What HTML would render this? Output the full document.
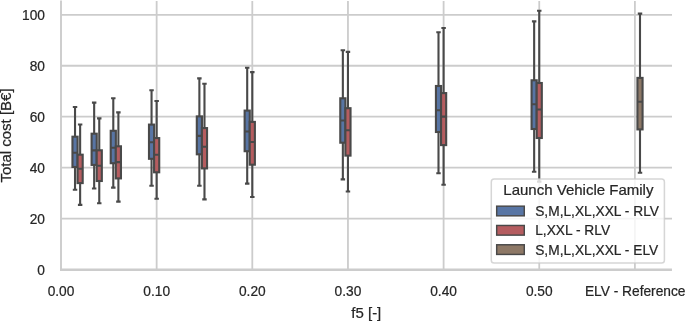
<!DOCTYPE html>
<html><head><meta charset="utf-8"><title>Total cost vs f5</title>
<style>
html,body{margin:0;padding:0;background:#fff;}
body{width:685px;height:321px;overflow:hidden;}
svg{display:block;}
text{font-family:"Liberation Sans",Arial,Helvetica,sans-serif;fill:#262626;stroke:#262626;stroke-width:0.22px;}
.tk{font-size:13.75px;}
.lb{font-size:15px;}
</style></head><body>
<svg width="685" height="321" viewBox="0 0 685 321">
<rect x="0" y="0" width="685" height="321" fill="#ffffff"/>

<g stroke="#cccccc" stroke-width="1.8" fill="none">
<line x1="156.65" y1="1.00" x2="156.65" y2="269.60"/>
<line x1="252.30" y1="1.00" x2="252.30" y2="269.60"/>
<line x1="347.95" y1="1.00" x2="347.95" y2="269.60"/>
<line x1="443.60" y1="1.00" x2="443.60" y2="269.60"/>
<line x1="539.25" y1="1.00" x2="539.25" y2="269.60"/>
<line x1="634.90" y1="1.00" x2="634.90" y2="269.60"/>
<line x1="61.00" y1="218.64" x2="672.00" y2="218.64"/>
<line x1="61.00" y1="167.68" x2="672.00" y2="167.68"/>
<line x1="61.00" y1="116.72" x2="672.00" y2="116.72"/>
<line x1="61.00" y1="65.76" x2="672.00" y2="65.76"/>
<line x1="61.00" y1="14.80" x2="672.00" y2="14.80"/>
</g>
<g>
<rect x="72.45" y="136.70" width="5.15" height="30.30" fill="#5875a4" stroke="#494949" stroke-width="2.10" stroke-linejoin="miter"/>
<rect x="91.59" y="133.70" width="5.15" height="31.20" fill="#5875a4" stroke="#494949" stroke-width="2.10" stroke-linejoin="miter"/>
<rect x="110.72" y="130.80" width="5.15" height="32.40" fill="#5875a4" stroke="#494949" stroke-width="2.10" stroke-linejoin="miter"/>
<rect x="148.98" y="124.60" width="5.15" height="34.20" fill="#5875a4" stroke="#494949" stroke-width="2.10" stroke-linejoin="miter"/>
<rect x="196.80" y="116.40" width="5.15" height="37.90" fill="#5875a4" stroke="#494949" stroke-width="2.10" stroke-linejoin="miter"/>
<rect x="244.63" y="110.60" width="5.15" height="40.60" fill="#5875a4" stroke="#494949" stroke-width="2.10" stroke-linejoin="miter"/>
<rect x="340.28" y="98.30" width="5.15" height="44.40" fill="#5875a4" stroke="#494949" stroke-width="2.10" stroke-linejoin="miter"/>
<rect x="435.93" y="86.00" width="5.15" height="46.00" fill="#5875a4" stroke="#494949" stroke-width="2.10" stroke-linejoin="miter"/>
<rect x="531.57" y="80.30" width="5.15" height="48.70" fill="#5875a4" stroke="#494949" stroke-width="2.10" stroke-linejoin="miter"/>
<rect x="77.55" y="154.70" width="5.15" height="28.40" fill="#b55d60" stroke="#494949" stroke-width="2.10" stroke-linejoin="miter"/>
<rect x="96.69" y="150.30" width="5.15" height="30.70" fill="#b55d60" stroke="#494949" stroke-width="2.10" stroke-linejoin="miter"/>
<rect x="115.81" y="146.30" width="5.15" height="32.10" fill="#b55d60" stroke="#494949" stroke-width="2.10" stroke-linejoin="miter"/>
<rect x="154.08" y="138.10" width="5.15" height="34.20" fill="#b55d60" stroke="#494949" stroke-width="2.10" stroke-linejoin="miter"/>
<rect x="201.90" y="128.10" width="5.15" height="40.30" fill="#b55d60" stroke="#494949" stroke-width="2.10" stroke-linejoin="miter"/>
<rect x="249.73" y="121.90" width="5.15" height="42.80" fill="#b55d60" stroke="#494949" stroke-width="2.10" stroke-linejoin="miter"/>
<rect x="345.38" y="108.20" width="5.15" height="47.40" fill="#b55d60" stroke="#494949" stroke-width="2.10" stroke-linejoin="miter"/>
<rect x="441.03" y="93.10" width="5.15" height="52.00" fill="#b55d60" stroke="#494949" stroke-width="2.10" stroke-linejoin="miter"/>
<rect x="536.67" y="83.00" width="5.15" height="55.00" fill="#b55d60" stroke="#494949" stroke-width="2.10" stroke-linejoin="miter"/>
<rect x="637.43" y="77.90" width="5.15" height="51.50" fill="#8d7866" stroke="#494949" stroke-width="2.10" stroke-linejoin="miter"/>
</g>
<g stroke="#494949" stroke-width="2.10" fill="none" stroke-linecap="butt">
<path d="M75.03 136.70V107.00M75.03 167.00V189.80M72.81 107.00H77.25M72.81 189.80H77.25M72.45 152.70H77.61"/>
<path d="M80.13 154.70V124.50M80.13 183.10V204.90M77.91 124.50H82.35M77.91 204.90H82.35M77.55 168.80H82.70"/>
<path d="M94.16 133.70V102.60M94.16 164.90V188.50M91.94 102.60H96.39M91.94 188.50H96.39M91.59 150.40H96.74"/>
<path d="M99.26 150.30V118.40M99.26 181.00V203.30M97.04 118.40H101.48M97.04 203.30H101.48M96.69 165.80H101.84"/>
<path d="M113.29 130.80V98.20M113.29 163.20V187.60M111.07 98.20H115.52M111.07 187.60H115.52M110.72 147.80H115.87"/>
<path d="M118.39 146.30V112.40M118.39 178.40V201.60M116.17 112.40H120.61M116.17 201.60H120.61M115.81 162.10H120.97"/>
<path d="M151.55 124.60V90.30M151.55 158.80V185.70M149.33 90.30H153.78M149.33 185.70H153.78M148.98 142.20H154.12"/>
<path d="M156.65 138.10V101.00M156.65 172.30V198.80M154.43 101.00H158.88M154.43 198.80H158.88M154.08 154.80H159.22"/>
<path d="M199.38 116.40V78.40M199.38 154.30V185.80M197.15 78.40H201.60M197.15 185.80H201.60M196.80 135.90H201.95"/>
<path d="M204.48 128.10V83.70M204.48 168.40V199.40M202.25 83.70H206.70M202.25 199.40H206.70M201.90 146.80H207.05"/>
<path d="M247.20 110.60V67.70M247.20 151.20V183.60M244.98 67.70H249.43M244.98 183.60H249.43M244.63 131.50H249.78"/>
<path d="M252.30 121.90V72.10M252.30 164.70V197.00M250.08 72.10H254.53M250.08 197.00H254.53M249.73 142.00H254.88"/>
<path d="M342.85 98.30V50.20M342.85 142.70V179.40M340.62 50.20H345.08M340.62 179.40H345.08M340.28 120.50H345.43"/>
<path d="M347.95 108.20V51.90M347.95 155.60V191.50M345.73 51.90H350.18M345.73 191.50H350.18M345.38 130.20H350.53"/>
<path d="M438.50 86.00V32.30M438.50 132.00V173.20M436.27 32.30H440.73M436.27 173.20H440.73M435.93 110.20H441.07"/>
<path d="M443.60 93.10V28.00M443.60 145.10V184.80M441.38 28.00H445.83M441.38 184.80H445.83M441.03 116.60H446.18"/>
<path d="M534.15 80.30V21.40M534.15 129.00V171.70M531.92 21.40H536.38M531.92 171.70H536.38M531.57 104.20H536.73"/>
<path d="M539.25 83.00V10.70M539.25 138.00V181.60M537.02 10.70H541.48M537.02 181.60H541.48M536.67 109.50H541.83"/>
<path d="M640.00 77.90V13.60M640.00 129.40V172.80M637.78 13.60H642.23M637.78 172.80H642.23M637.43 101.70H642.58"/>
</g>
<line x1="61" y1="0.5" x2="61" y2="270.95" stroke="#cccccc" stroke-width="1.9"/>
<line x1="60.05" y1="269.78" x2="671.95" y2="269.78" stroke="#cccccc" stroke-width="2.35"/>
<g class="tk" text-anchor="end">
<text transform="translate(45 274.60) scale(1 1.02)">0</text>
<text transform="translate(45 223.64) scale(1 1.02)">20</text>
<text transform="translate(45 172.68) scale(1 1.02)">40</text>
<text transform="translate(45 121.72) scale(1 1.02)">60</text>
<text transform="translate(45 70.76) scale(1 1.02)">80</text>
<text transform="translate(45 19.80) scale(1 1.02)">100</text>
</g>
<g class="tk" text-anchor="middle">
<text transform="translate(61.00 296.05) scale(1 1.02)">0.00</text>
<text transform="translate(156.65 296.05) scale(1 1.02)">0.10</text>
<text transform="translate(252.30 296.05) scale(1 1.02)">0.20</text>
<text transform="translate(347.95 296.05) scale(1 1.02)">0.30</text>
<text transform="translate(443.60 296.05) scale(1 1.02)">0.40</text>
<text transform="translate(539.25 296.05) scale(1 1.02)">0.50</text>
<text x="635.20" y="296">ELV - Reference</text>
</g>
<text class="lb" text-anchor="middle" x="366.3" y="317.6">f5 [-]</text>
<text class="lb" text-anchor="middle" transform="translate(11.0 135.5) rotate(-90) scale(1 1.03)">Total cost [B€]</text>
<rect x="491.3" y="179.1" width="173.1" height="83.95" rx="2.8" ry="2.8" fill="#ffffff" fill-opacity="0.8" stroke="#cccccc" stroke-opacity="0.8" stroke-width="1.5"/>
<text class="lb" text-anchor="middle" x="578.4" y="195.4">Launch Vehicle Family</text>
<rect x="496.68" y="206.17" width="27.6" height="9.65" fill="#5875a4" stroke="#494949" stroke-width="1.45"/>
<text class="tk" transform="translate(535.2 216.05) scale(1 1.035)">S,M,L,XL,XXL - RLV</text>
<rect x="496.68" y="225.47" width="27.6" height="9.65" fill="#b55d60" stroke="#494949" stroke-width="1.45"/>
<text class="tk" transform="translate(535.2 235.35) scale(1 1.035)">L,XXL - RLV</text>
<rect x="496.68" y="244.77" width="27.6" height="9.65" fill="#8d7866" stroke="#494949" stroke-width="1.45"/>
<text class="tk" transform="translate(535.2 254.65) scale(1 1.035)">S,M,L,XL,XXL - ELV</text>
</svg></body></html>
